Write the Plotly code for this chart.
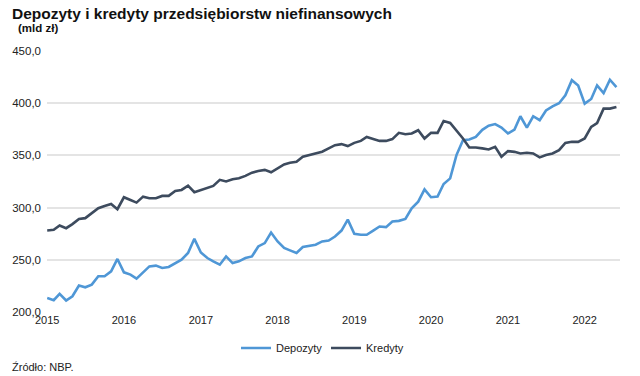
import plotly.graph_objects as go
import pandas as pd

months = pd.date_range("2015-01-01", periods=90, freq="MS").strftime("%Y-%m-%d").tolist()

depozyty = [
    213.5, 211.3, 217.4, 211.0, 215.1, 225.3, 223.7, 226.2, 234.2, 234.2, 238.9, 250.8,
    238.0, 235.8, 232.0, 238.4, 243.7, 244.4, 242.2, 243.1, 246.3, 250.1, 256.5, 270.1,
    257.0, 251.7, 248.5, 245.3, 253.2, 246.9, 248.5, 251.7, 253.2, 262.8, 266.0, 276.1,
    267.6, 261.3, 259.0, 256.5, 262.2, 263.5, 264.4, 267.6, 268.5, 272.3, 278.0, 288.5,
    274.9, 274.0, 274.0, 278.0, 281.9, 281.3, 286.7, 287.3, 289.2, 299.4, 305.7, 317.5,
    309.9, 310.5, 322.6, 328.0, 350.3, 364.6, 365.2, 367.7, 374.5, 378.5, 380.0, 376.7,
    371.0, 374.8, 387.5, 376.7, 387.5, 383.7, 393.0, 397.0, 400.0, 407.5, 422.0, 417.0,
    399.6, 404.0, 417.0, 409.7, 422.5, 415.5,
]

kredyty = [
    278.1, 278.7, 282.8, 280.3, 284.2, 289.2, 289.9, 294.7, 299.4, 301.6, 303.5, 298.5,
    309.9, 307.3, 304.8, 310.5, 309.0, 309.0, 311.2, 311.2, 315.9, 316.9, 321.0, 314.7,
    317.0, 318.6, 320.8, 326.6, 325.0, 327.2, 328.2, 330.4, 333.5, 335.1, 336.1, 333.8,
    337.6, 341.4, 343.0, 344.0, 348.8, 350.3, 351.3, 353.5, 356.7, 359.8, 360.8, 358.9,
    362.0, 363.9, 367.7, 365.6, 363.9, 363.9, 365.6, 371.6, 370.3, 371.0, 374.1, 366.2,
    371.6, 371.6, 383.0, 381.1, 374.1, 366.2, 357.6, 357.6, 356.7, 355.7, 358.2, 348.7,
    354.1, 353.4, 351.9, 352.5, 351.9, 348.1, 350.3, 351.9, 355.0, 362.0, 363.0, 363.0,
    366.2, 377.3, 381.0, 394.8, 394.8, 396.4,
]

x_tick_vals = ["2015-01-01", "2016-01-01", "2017-01-01", "2018-01-01",
               "2019-01-01", "2020-01-01", "2021-01-01", "2022-01-01"]
x_tick_text = ["2015", "2016", "2017", "2018", "2019", "2020", "2021", "2022"]
y_tick_vals = [200, 250, 300, 350, 400, 450]
y_tick_text = ["200,0", "250,0", "300,0", "350,0", "400,0", "450,0"]

FONT = "Liberation Sans, Arial, sans-serif"
W, H = 640, 376
L, R, T, B = 44, 20, 51, 64
PW, PH = W - L - R, H - T - B


def px_x(p):
    return (p - L) / PW


def px_y(p):
    return (H - B - p) / PH


fig = go.Figure()
fig.add_trace(go.Scatter(x=months, y=depozyty, name="Depozyty", mode="lines",
                         line=dict(color="#4f97d6", width=2.6)))
fig.add_trace(go.Scatter(x=months, y=kredyty, name="Kredyty", mode="lines",
                         line=dict(color="#3d4b5e", width=2.6)))

fig.update_layout(
    width=W, height=H,
    margin=dict(l=L, r=R, t=T, b=B),
    paper_bgcolor="white", plot_bgcolor="white",
    font=dict(family=FONT, size=11, color="#222222"),
    title=dict(text="<b>Depozyty i kredyty przedsiębiorstw niefinansowych</b>",
               xref="container", yref="container", x=12 / W, xanchor="left",
               y=1 - 14 / H, yanchor="middle",
               font=dict(family=FONT, size=15.5, color="#111111")),
    xaxis=dict(type="date", range=["2014-12-31", "2022-06-18"],
               tickmode="array", tickvals=x_tick_vals, ticktext=x_tick_text,
               showgrid=False, zeroline=False, showline=False, ticks="",
               tickfont=dict(size=11, color="#222222")),
    yaxis=dict(range=[200, 450], tickmode="array", tickvals=y_tick_vals,
               ticktext=y_tick_text, showgrid=True, gridcolor="#e4e4e4",
               gridwidth=1.6, zeroline=False, showline=False, ticks="",
               ticklabelstandoff=5,
               tickfont=dict(size=11.5, color="#222222")),
    legend=dict(orientation="h", x=px_x(234), xanchor="left",
                y=px_y(348), yanchor="middle",
                font=dict(size=11, color="#222222"), itemwidth=30,
                entrywidth=45, entrywidthmode="pixels",
                bgcolor="rgba(0,0,0,0)"),
    showlegend=True,
)

fig.add_annotation(text="<b>(mld zł)</b>", xref="paper", yref="paper",
                   x=px_x(13), y=px_y(28), xanchor="left", yanchor="middle",
                   showarrow=False, font=dict(family=FONT, size=11.5, color="#111111"))
fig.add_annotation(text="Źródło: NBP.", xref="paper", yref="paper",
                   x=px_x(7), y=px_y(367), xanchor="left", yanchor="middle",
                   showarrow=False, font=dict(family=FONT, size=11, color="#222222"))

fig.write_html("out.html", config={"displayModeBar": False},
               post_script="document.body.style.margin='0';document.body.style.padding='0';")
